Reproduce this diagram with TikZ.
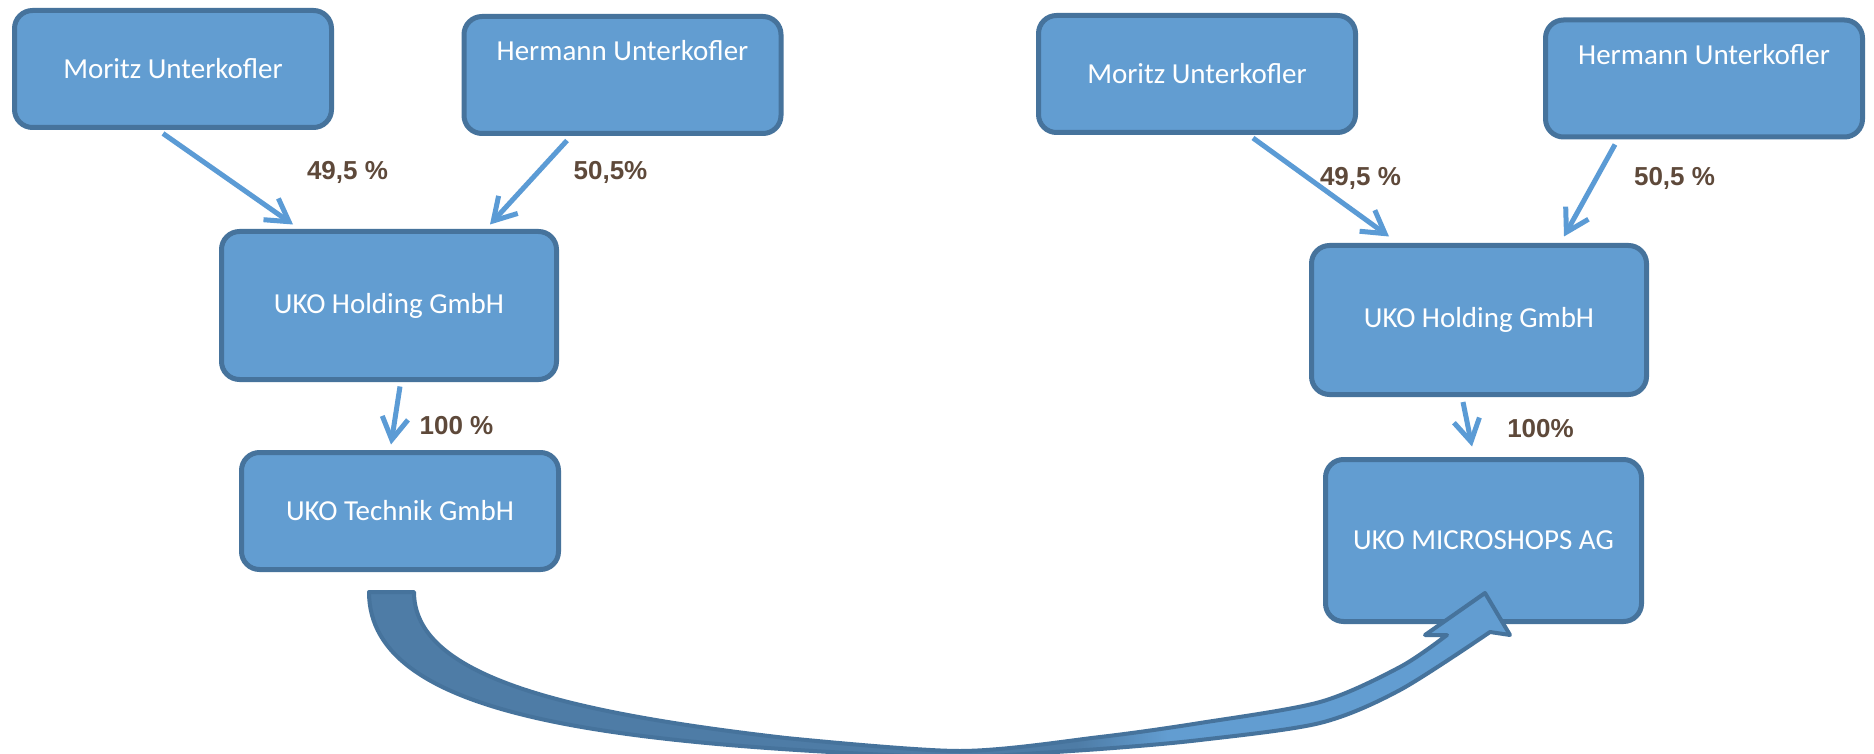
\documentclass[tikz,border=0pt]{standalone}
\usepackage{fontspec}
\setmainfont{Carlito}
\newfontfamily\pctfont{Liberation Sans}
\usetikzlibrary{calc}
\usetikzlibrary{arrows.meta}

\definecolor{boxfill}{RGB}{98,157,209}
\definecolor{boxline}{RGB}{70,115,156}
\definecolor{linkblue}{RGB}{91,155,213}
\definecolor{pctbrown}{RGB}{94,73,58}
\definecolor{bigdark}{RGB}{78,124,166}
\pgfdeclarehorizontalshading{bendshade}{100bp}{color(0bp)=(bigdark); color(56bp)=(bigdark); color(60bp)=(boxfill); color(100bp)=(boxfill)}

\begin{document}
\begin{tikzpicture}[x=0.5pt,y=-0.5pt,>={Straight Barb[length=11pt,width=13pt]},
  firm/.style={draw=boxline, line width=2.5pt, fill=boxfill, rounded corners=9pt,
    text=white, font=\fontsize{14.5}{17}\selectfont, inner sep=0pt,
    minimum width=158.5pt, minimum height=58.5pt},
  link/.style={->, draw=linkblue, line width=2.5pt},
  pct/.style={text=pctbrown, font=\pctfont\bfseries\fontsize{13}{15}\selectfont}]

  % Bildrahmen
  \useasboundingbox (0,0) rectangle (1874,754);
  \fill[white] (0,0) rectangle (1874,754);

  % vorher
  \node[firm] (mL) at (173,69) {Moritz Unterkofler};
  \node[firm, align=center] (hL) at (622.5,75) {Hermann Unterkofler\\[2pt]\strut};
  \node[firm, minimum width=167.5pt, minimum height=74pt] (holdL) at (389,305.5) {UKO Holding GmbH};
  \node[firm] (techL) at (400,511) {UKO Technik GmbH};

  \draw[link] ($(mL.south)+(-10,3.5)$) -- ($(holdL.north)+(-96,-4.5)$);
  \draw[link] ($(hL.south)+(-55.5,4.5)$) -- ($(holdL.north)+(101,-4.5)$);
  \draw[link] ($(holdL.south)+(11,4.5)$) -- ($(techL.north)+(-9,-5.5)$);

  \node[pct] (pctML) at (347.5,172) {49,5 \%};
  \node[pct] (pctHL) at (610.5,172) {50,5\%};
  \node[pct] (pctTL) at (456.5,426) {100 \%};

  % nachher
  \node[firm] (mR) at (1197,74) {Moritz Unterkofler};
  \node[firm, align=center] (hR) at (1704,78.5) {Hermann Unterkofler\\[2pt]\strut};
  \node[firm, minimum width=167.5pt, minimum height=74.5pt] (holdR) at (1479,320) {UKO Holding GmbH};
  \node[firm, minimum width=158pt, minimum height=81pt] (microR) at (1483.5,540.5) {UKO MICROSHOPS AG};

  \draw[link] ($(mR.south)+(56,3)$) -- ($(holdR.north)+(-90,-6.5)$);
  \draw[link] ($(hR.south)+(-89,5)$) -- ($(holdR.north)+(85,-6.5)$);
  \draw[link] ($(holdR.south)+(-16,5)$) -- ($(microR.north)+(-11.5,-10.5)$);

  \node[pct] (pctMR) at (1360.5,178) {49,5 \%};
  \node[pct] (pctHR) at (1674.5,178) {50,5 \%};
  \node[pct] (pctTR) at (1540.5,429) {100\%};

  % Umwandlungspfeil
  \begin{scope}
    \clip (0,0) rectangle (1874,754);
    \shadedraw[shading=bendshade, draw=boxline, line width=2pt, line join=round]
      (369,592) -- (414,592)
      .. controls (414,675) and (560,712) .. (786,738)
      -- plot[smooth] coordinates {(786,738) (960,751) (1100,737) (1200,723) (1320,702) (1400,667) (1447,635)}
      -- (1425,635) -- (1485,593) -- (1510,635) -- (1490,632)
      -- plot[smooth] coordinates {(1490,632) (1400,690) (1320,723) (1200,740) (1100,749) (960,758)}
      .. controls (620,745) and (369,720) .. (369,592)
      -- cycle;
  \end{scope}

\end{tikzpicture}
\end{document}
